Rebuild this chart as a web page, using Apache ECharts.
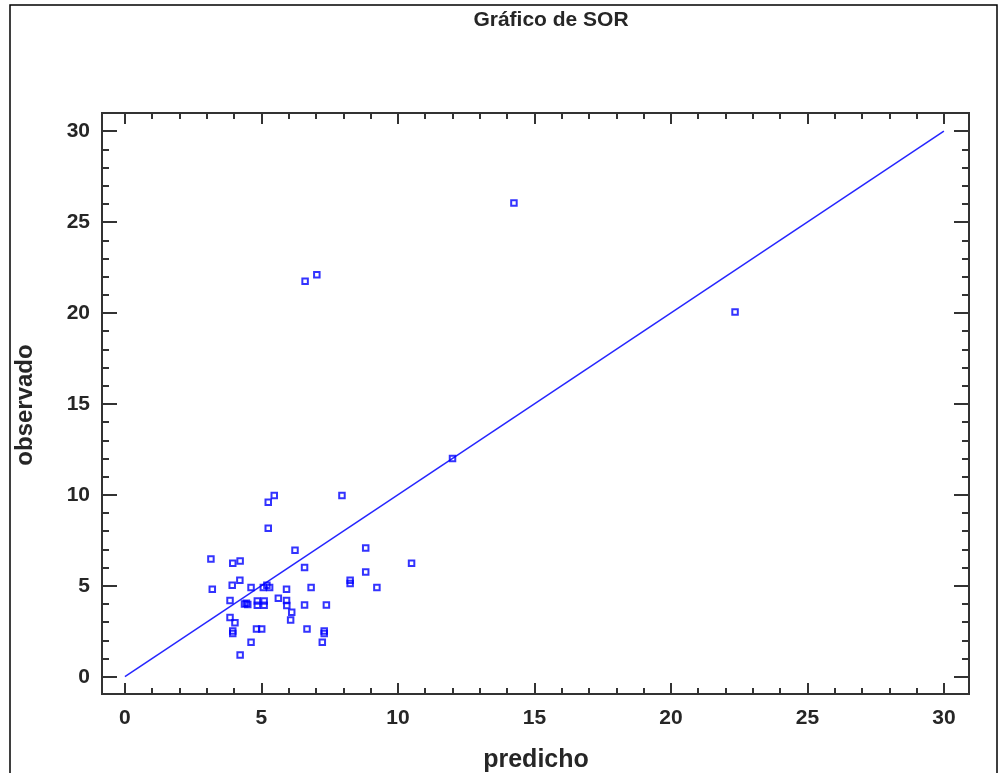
<!DOCTYPE html>
<html>
<head>
<meta charset="utf-8">
<script src="https://cdn.jsdelivr.net/npm/echarts@6/dist/echarts.min.js"></script>
<style>
html,body{margin:0;padding:0;background:#fff;}
#chart{width:1000px;height:773px;}
</style>
</head>
<body>
<div id="chart"></div>
<script>
// ---- data ----
const titleText = 'Gráfico de SOR';
const xName = 'predicho';
const yName = 'observado';
const majorTicks = [0, 5, 10, 15, 20, 25, 30];
const minorTicks = [1,2,3,4,6,7,8,9,11,12,13,14,16,17,18,19,21,22,23,24,26,27,28,29];
const predicho = [
  14.25, 22.35, 6.6, 7.03, 12.0, 5.47, 5.25, 7.95, 5.25, 6.23,
  8.82, 3.15, 3.95, 4.22, 6.58, 10.5, 8.82, 4.21, 8.25, 8.25,
  3.93, 3.2, 4.62, 5.07, 5.2, 5.3, 5.92, 6.82, 9.23, 3.85,
  5.62, 5.92, 5.93, 4.38, 4.5, 4.45, 4.85, 5.1, 5.1, 4.85,
  6.58, 7.38, 6.11, 6.07, 3.85, 4.03, 4.82, 5.01, 6.67, 3.95,
  3.95, 7.3, 7.3, 4.62, 7.23, 4.22
];
const observado = [
  26.05, 20.05, 21.75, 22.1, 12.0, 9.96, 9.6, 9.96, 8.17, 6.96,
  7.08, 6.48, 6.24, 6.37, 6.0, 6.24, 5.76, 5.31, 5.13, 5.3,
  5.03, 4.81, 4.91, 4.91, 5.03, 4.91, 4.81, 4.91, 4.91, 4.19,
  4.32, 4.19, 3.92, 4.0, 3.97, 4.04, 4.17, 4.17, 3.93, 3.93,
  3.95, 3.95, 3.54, 3.12, 3.25, 2.97, 2.63, 2.63, 2.63, 2.38,
  2.52, 2.38, 2.52, 1.89, 1.89, 1.19
];
const lineX = [0, 30];
const lineY = [0, 30];
const xRange = [-0.84, 30.92];
const yRange = [-0.95, 31.0];

// ---- chart ----
const chart = echarts.init(document.getElementById('chart'), null, {renderer: 'canvas'});
const axisColor = '#333';
const fontFam = 'Liberation Sans, Arial, sans-serif';
const labelStyle = {fontFamily: fontFam, fontWeight: 'bold', fontSize: 21, color: '#262626'};

function xAx(pos, ticks, len, labels) {
  return {
    type: 'value', position: pos, min: xRange[0], max: xRange[1], offset: 0,
    axisLine: {show: true, onZero: false, lineStyle: {color: axisColor, width: 2}},
    axisTick: {show: true, inside: true, length: len, customValues: ticks, lineStyle: {color: axisColor, width: 2}},
    axisLabel: labels ? Object.assign({show: true, margin: 14, customValues: ticks}, labelStyle) : {show: false},
    splitLine: {show: false}
  };
}
function yAx(pos, ticks, len, labels) {
  return {
    type: 'value', position: pos, min: yRange[0], max: yRange[1], offset: 0,
    axisLine: {show: true, onZero: false, lineStyle: {color: axisColor, width: 2}},
    axisTick: {show: true, inside: true, length: len, customValues: ticks, lineStyle: {color: axisColor, width: 2}},
    axisLabel: labels ? Object.assign({show: true, margin: 12, customValues: ticks}, labelStyle) : {show: false},
    splitLine: {show: false}
  };
}

const scatterData = predicho.map((x, i) => [x, observado[i]]);
const lineData = lineX.map((x, i) => [x, lineY[i]]);

chart.setOption({
  animation: false,
  backgroundColor: '#fff',
  grid: {left: 102, right: 31, top: 113, bottom: 79, containLabel: false},
  title: {
    text: titleText, left: 546, top: 5, textAlign: 'center',
    textStyle: {fontFamily: fontFam, fontWeight: 'bold', fontSize: 21, color: '#262626'}
  },
  xAxis: [
    xAx('bottom', majorTicks, 11, true),
    xAx('bottom', minorTicks, 6, false),
    xAx('top', majorTicks, 11, false),
    xAx('top', minorTicks, 6, false)
  ],
  yAxis: [
    yAx('left', majorTicks, 15, true),
    yAx('left', minorTicks, 7, false),
    yAx('right', majorTicks, 15, false),
    yAx('right', minorTicks, 7, false)
  ],
  graphic: [
    {type: 'polyline', shape: {points: [[10, 773], [10, 5], [997, 5], [997, 773]]}, style: {stroke: '#000', lineWidth: 1.5, fill: null}, silent: true},
    {type: 'text', x: 536, y: 760, style: {text: xName, fontFamily: fontFam, fontWeight: 'bold', fontSize: 25, fill: '#262626', align: 'center', verticalAlign: 'middle'}},
    {type: 'text', x: 25, y: 405, rotation: Math.PI / 2, style: {text: yName, fontFamily: fontFam, fontWeight: 'bold', fontSize: 24, fill: '#262626', align: 'center', verticalAlign: 'middle'}}
  ],
  series: [
    {
      type: 'line', data: lineData, xAxisIndex: 0, yAxisIndex: 0,
      symbol: 'none', lineStyle: {color: '#2626ff', width: 1.5}, z: 2
    },
    {
      type: 'scatter', data: scatterData, xAxisIndex: 0, yAxisIndex: 0,
      symbol: 'rect', symbolSize: 5.5,
      itemStyle: {color: 'rgba(0,0,0,0)', borderColor: '#0000ff', borderWidth: 2}, z: 3
    }
  ]
});
</script>
</body>
</html>
